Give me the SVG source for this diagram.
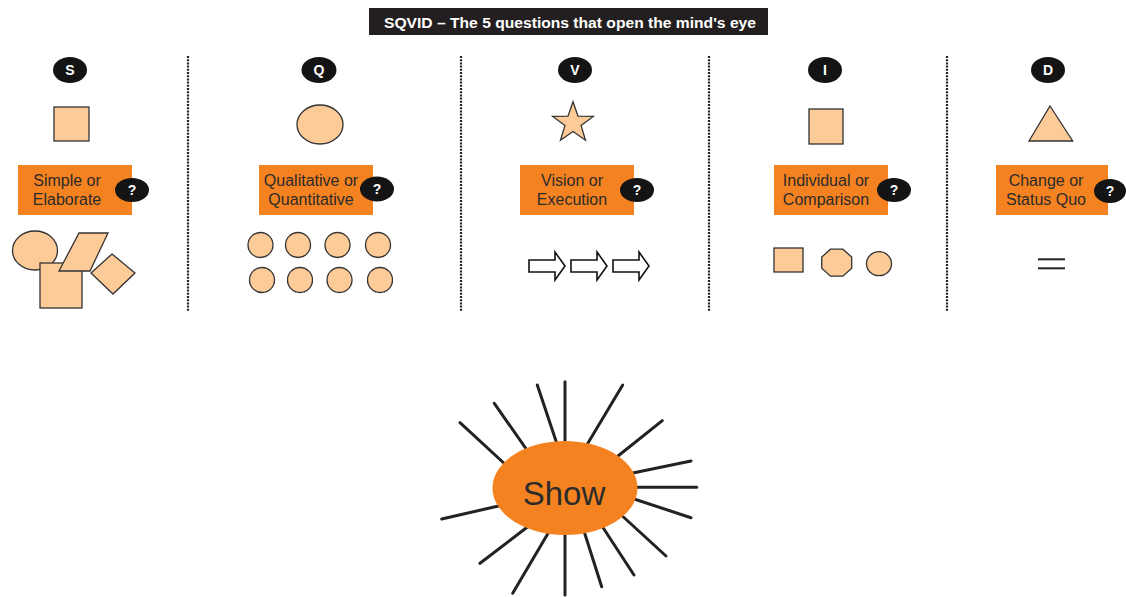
<svg xmlns="http://www.w3.org/2000/svg" xmlns:xlink="http://www.w3.org/1999/xlink" width="1126" height="597" viewBox="0 0 1126 597">
<style>
  .shape{fill:#FDCB98;stroke:#333;stroke-width:1.3}
  .box{fill:#F58220}
  .badge{fill:#141414}
  .bt{font-family:"Liberation Sans",Arial,sans-serif;font-size:14px;font-weight:bold;fill:#fff;text-anchor:middle}
  .lbl{font-family:"Liberation Sans",Arial,sans-serif;font-size:16px;fill:#2b2b2b;text-anchor:middle}
  .sep{stroke:#222;stroke-width:2.2;stroke-dasharray:2 1.2;fill:none}
  .ray{stroke:#222;stroke-width:3;stroke-linecap:round}
  .arrow{fill:#fff;stroke:#111;stroke-width:1.6;stroke-linejoin:miter}
</style>
<defs>
  <path id="blockArrow" d="M0,260 L26,260 L26,252 L36,266 L26,280 L26,272 L0,272 Z"/>
</defs>
<rect width="1126" height="597" fill="#fff"/>

<g id="title">
  <rect x="369" y="8" width="399" height="27" fill="#231F20"/>
  <text x="570" y="28" font-family="Liberation Sans,Arial,sans-serif" font-size="14.5" font-weight="bold" fill="#fff" text-anchor="middle" textLength="372" lengthAdjust="spacingAndGlyphs">SQVID – The 5 questions that open the mind's eye</text>
</g>

<g id="separators">
  <line class="sep" x1="188" y1="56" x2="188" y2="311"/>
  <line class="sep" x1="461" y1="56" x2="461" y2="311"/>
  <line class="sep" x1="709" y1="56" x2="709" y2="311"/>
  <line class="sep" x1="947" y1="56" x2="947" y2="311"/>
</g>

<g id="col-S">
  <ellipse class="badge" cx="70" cy="70" rx="17" ry="13"/>
  <text class="bt" x="70" y="75">S</text>
  <rect class="shape" x="54" y="107" width="35" height="34"/>
  <rect class="box" x="18" y="165" width="114" height="50"/>
  <text class="lbl" x="67" y="186">Simple or</text>
  <text class="lbl" x="67" y="205">Elaborate</text>
  <ellipse class="badge" cx="132" cy="190" rx="17" ry="12"/>
  <text class="bt" x="132" y="195">?</text>
  <ellipse class="shape" cx="35" cy="250.5" rx="22.5" ry="19.5"/>
  <rect class="shape" x="40" y="263" width="42" height="45"/>
  <polygon class="shape" points="79,233 108,233 90,271 59,271"/>
  <polygon class="shape" points="112,254 135,273 113,294 91,273"/>
</g>

<g id="col-Q">
  <ellipse class="badge" cx="319" cy="70" rx="17.5" ry="13"/>
  <text class="bt" x="319" y="75">Q</text>
  <ellipse class="shape" cx="320" cy="124.5" rx="23" ry="19.5"/>
  <rect class="box" x="259" y="165" width="114" height="50"/>
  <text class="lbl" x="311" y="186">Qualitative or</text>
  <text class="lbl" x="311" y="205">Quantitative</text>
  <ellipse class="badge" cx="377" cy="189" rx="17" ry="12.5"/>
  <text class="bt" x="377" y="194">?</text>
  <circle class="shape" cx="260.5" cy="245" r="12.5"/>
  <circle class="shape" cx="298" cy="245" r="12.5"/>
  <circle class="shape" cx="337.5" cy="245" r="12.5"/>
  <circle class="shape" cx="378" cy="245" r="12.5"/>
  <circle class="shape" cx="262" cy="280" r="12.5"/>
  <circle class="shape" cx="300" cy="280" r="12.5"/>
  <circle class="shape" cx="339.5" cy="280" r="12.5"/>
  <circle class="shape" cx="380" cy="280" r="12.5"/>
</g>

<g id="col-V">
  <ellipse class="badge" cx="575" cy="70" rx="17" ry="13"/>
  <text class="bt" x="575" y="75">V</text>
  <polygon class="shape" points="573,101.7 578,116.1 593.3,116.4 581.1,125.6 585.5,140.2 573,131.5 560.5,140.2 564.9,125.6 552.7,116.4 568,116.1"/>
  <rect class="box" x="520" y="165" width="114" height="50"/>
  <text class="lbl" x="572" y="186">Vision or</text>
  <text class="lbl" x="572" y="205">Execution</text>
  <ellipse class="badge" cx="637" cy="190" rx="17" ry="12"/>
  <text class="bt" x="637" y="195">?</text>
  <use xlink:href="#blockArrow" href="#blockArrow" class="arrow" transform="translate(529,0)"/>
  <use xlink:href="#blockArrow" href="#blockArrow" class="arrow" transform="translate(571,0)"/>
  <use xlink:href="#blockArrow" href="#blockArrow" class="arrow" transform="translate(613,0)"/>
</g>

<g id="col-I">
  <ellipse class="badge" cx="825" cy="70" rx="17" ry="13"/>
  <text class="bt" x="825" y="75">I</text>
  <rect class="shape" x="809" y="109" width="34" height="35"/>
  <rect class="box" x="774" y="165" width="114" height="50"/>
  <text class="lbl" x="826" y="186">Individual or</text>
  <text class="lbl" x="826" y="205">Comparison</text>
  <ellipse class="badge" cx="894" cy="190" rx="17" ry="12"/>
  <text class="bt" x="894" y="195">?</text>
  <rect class="shape" x="774" y="248" width="29" height="24"/>
  <polygon class="shape" points="830.5,249.2 842.9,249.2 851.7,257.1 851.7,268.3 842.9,276.2 830.5,276.2 821.7,268.3 821.7,257.1"/>
  <ellipse class="shape" cx="879" cy="263.7" rx="12.5" ry="12"/>
</g>

<g id="col-D">
  <ellipse class="badge" cx="1048" cy="70" rx="17" ry="13"/>
  <text class="bt" x="1048" y="75">D</text>
  <polygon class="shape" points="1050,106 1072.7,141 1029,141"/>
  <rect class="box" x="996" y="165" width="112" height="50"/>
  <text class="lbl" x="1046" y="186">Change or</text>
  <text class="lbl" x="1046" y="205">Status Quo</text>
  <ellipse class="badge" cx="1110" cy="191" rx="16" ry="12"/>
  <text class="bt" x="1110" y="196">?</text>
  <line x1="1038" y1="259.3" x2="1065" y2="259.3" stroke="#222" stroke-width="2"/>
  <line x1="1038" y1="268.3" x2="1065" y2="268.3" stroke="#222" stroke-width="2"/>
</g>

<g id="show">
  <g id="rays">
    <line class="ray" x1="565" y1="381.7" x2="565" y2="450"/>
    <line class="ray" x1="537.3" y1="385" x2="558" y2="447"/>
    <line class="ray" x1="494.3" y1="403.3" x2="529" y2="453"/>
    <line class="ray" x1="460" y1="422.7" x2="507" y2="466"/>
    <line class="ray" x1="622.7" y1="385" x2="585" y2="448"/>
    <line class="ray" x1="662.3" y1="420.7" x2="613" y2="460"/>
    <line class="ray" x1="691" y1="461" x2="628" y2="474"/>
    <line class="ray" x1="696.7" y1="487.3" x2="630" y2="487.3"/>
    <line class="ray" x1="691" y1="517.7" x2="628" y2="497"/>
    <line class="ray" x1="666" y1="556" x2="618" y2="512"/>
    <line class="ray" x1="634" y1="575" x2="600" y2="523"/>
    <line class="ray" x1="601.7" y1="586.7" x2="583" y2="528"/>
    <line class="ray" x1="565" y1="595" x2="565" y2="528"/>
    <line class="ray" x1="512.7" y1="593.3" x2="550" y2="530"/>
    <line class="ray" x1="480" y1="563.3" x2="530" y2="525"/>
    <line class="ray" x1="441.7" y1="519" x2="505" y2="504.5"/>
  </g>
  <ellipse cx="565" cy="488" rx="72.5" ry="47" fill="#F58220"/>
  <text x="564" y="505" font-family="Liberation Sans,Arial,sans-serif" font-size="33" fill="#2b2b2b" text-anchor="middle">Show</text>
</g>
</svg>
